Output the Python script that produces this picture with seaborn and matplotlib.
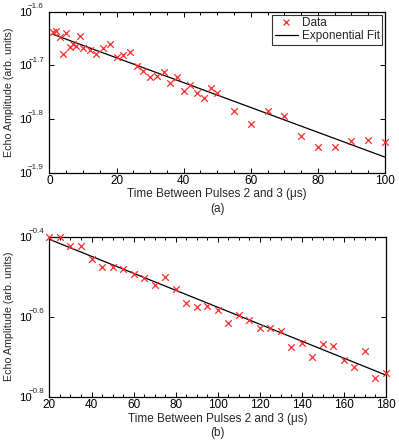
import numpy as np
import pandas as pd
import matplotlib
matplotlib.use("Agg")
import matplotlib.pyplot as plt
import seaborn as sns
from matplotlib.ticker import FixedLocator, FixedFormatter, MultipleLocator, NullLocator
from matplotlib.lines import Line2D

# ---------------- data (a) ----------------
time_a = [1, 2, 3, 4, 5, 6, 7, 8, 9, 10, 12, 14, 16, 18, 20, 22, 24, 26, 28, 30,
          32, 34, 36, 38, 40, 42, 44, 46, 48, 50, 55, 60, 65, 70, 75, 80, 85, 90, 95, 100]
log_amp_a = [-1.637, -1.635, -1.647, -1.678, -1.640, -1.666, -1.661, -1.664, -1.645, -1.668,
             -1.671, -1.679, -1.668, -1.660, -1.684, -1.681, -1.675, -1.702, -1.710, -1.721,
             -1.720, -1.712, -1.732, -1.721, -1.747, -1.737, -1.751, -1.760, -1.743, -1.751,
             -1.785, -1.809, -1.785, -1.794, -1.831, -1.853, -1.852, -1.840, -1.839, -1.843]
fit_time_a = [1, 100]
fit_log_amp_a = [-1.642, -1.871]
yticks_exp_a = [-1.9, -1.8, -1.7, -1.6]

# ---------------- data (b) ----------------
time_b = [20, 25, 30, 35, 40, 45, 50, 55, 60, 65, 70, 75, 80, 85, 90, 95, 100, 105, 110,
          115, 120, 125, 130, 135, 140, 145, 150, 155, 160, 165, 170, 175, 180]
log_amp_b = [-0.402, -0.401, -0.424, -0.424, -0.456, -0.477, -0.476, -0.480, -0.493, -0.503,
             -0.522, -0.502, -0.531, -0.565, -0.577, -0.573, -0.583, -0.615, -0.595, -0.608,
             -0.629, -0.628, -0.636, -0.677, -0.665, -0.700, -0.668, -0.673, -0.708, -0.725,
             -0.686, -0.753, -0.740]
fit_time_b = [20, 180]
fit_log_amp_b = [-0.4067, -0.746]
yticks_exp_b = [-0.8, -0.6, -0.4]

xlabel = "Time Between Pulses 2 and 3 (\u03bcs)"
ylabel = "Echo Amplitude (arb. units)"

sns.set_style("ticks")
plt.rcParams['font.family'] = ['Liberation Sans', 'DejaVu Sans']

FS = 8.5
RED = "#ff2a2a"
fig = plt.figure(figsize=(3.99, 4.41), dpi=100)
ax_a = fig.add_axes([0.124, 0.6084, 0.841, 0.365])
ax_b = fig.add_axes([0.124, 0.1005, 0.843, 0.3628])


def draw(ax, t, la, ft, fla, yexp, xlim, xmaj, caption, lab_y, cap_y, legend=False):
    df = pd.DataFrame({"t": t, "amp": np.power(10.0, la)})
    dfit = pd.DataFrame({"t": ft, "amp": np.power(10.0, fla)})
    sns.lineplot(data=dfit, x="t", y="amp", ax=ax, color="black", linewidth=0.9,
                 zorder=2)
    sns.scatterplot(data=df, x="t", y="amp", ax=ax, marker="x", color=RED,
                    s=22, linewidth=0.9, zorder=3, clip_on=False)
    ax.set_yscale("log")
    ax.set_xlim(*xlim)
    ax.set_ylim(10 ** yexp[0], 10 ** yexp[-1])
    ax.yaxis.set_major_locator(FixedLocator([10 ** e for e in yexp]))
    ax.yaxis.set_minor_locator(NullLocator())
    ax.yaxis.set_major_formatter(FixedFormatter(["10"] * len(yexp)))
    # small exponents, MATLAB style
    for e in yexp:
        ax.annotate(("%.1f" % e).replace("-", "\u2212"), xy=(0, 10 ** e),
                    xycoords=("axes fraction", "data"),
                    xytext=(-4.0, 1.2), textcoords="offset points", ha="right",
                    va="bottom", fontsize=5.8, annotation_clip=False)
    ax.xaxis.set_major_locator(MultipleLocator(xmaj))
    ax.xaxis.set_minor_locator(MultipleLocator(5))
    ax.tick_params(which="both", direction="in", top=True, right=True,
                   width=0.7, colors="black")
    ax.tick_params(which="major", length=3.5)
    ax.tick_params(which="minor", length=2)
    ax.tick_params(axis="x", pad=1.5, labelsize=FS)
    ax.tick_params(axis="y", pad=12.8, labelsize=8.2)
    for sp in ax.spines.values():
        sp.set_color("black")
        sp.set_linewidth(0.9)
    ax.set_xlabel(xlabel, fontsize=FS)
    ax.xaxis.set_label_coords(0.5, lab_y)
    ax.text(0.5, cap_y, caption, transform=ax.transAxes, ha="center", va="center",
            fontsize=FS)
    ax.set_ylabel(ylabel, fontsize=7.7, labelpad=3.5)
    if legend:
        handles = [Line2D([], [], marker="x", color=RED, linestyle="none",
                          markersize=5, markeredgewidth=0.9),
                   Line2D([], [], color="black", linewidth=0.9)]
        leg = ax.legend(handles, ["Data", "Exponential Fit"], loc="upper right",
                        fontsize=FS, frameon=True, fancybox=False,
                        borderpad=0.2, handlelength=2.0, handletextpad=0.3,
                        labelspacing=0.1, borderaxespad=0.25)
        leg.get_frame().set_edgecolor("black")
        leg.get_frame().set_linewidth(0.8)
    elif ax.get_legend() is not None:
        ax.get_legend().remove()


draw(ax_a, time_a, log_amp_a, fit_time_a, fit_log_amp_a, yticks_exp_a, (0, 100), 20,
     "(a)", -0.098, -0.2255, legend=True)
draw(ax_b, time_b, log_amp_b, fit_time_b, fit_log_amp_b, yticks_exp_b, (20, 180), 20,
     "(b)", -0.099, -0.227)

fig.savefig("out.png", dpi=100)
